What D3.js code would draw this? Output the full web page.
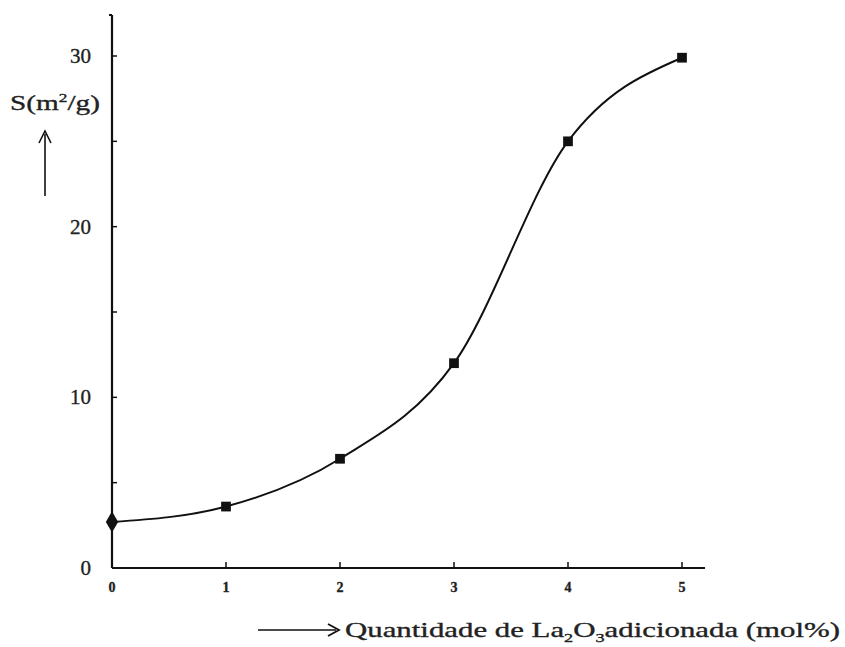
<!DOCTYPE html>
<html>
<head>
<meta charset="utf-8">
<script src="https://cdn.jsdelivr.net/npm/d3@7"></script>
<style>
  body { margin: 0; background: #fff; }
  svg { display: block; }
  text { stroke: #222; stroke-width: 0.35px; }
</style>
</head>
<body>
<div id="chart"></div>
<script>
const width = 845, height = 647;
const origin = { x: 112, y: 568 };

// data
const lanthana = [0, 1, 2, 3, 4, 5];
const area = [2.7, 3.6, 6.4, 12.0, 25.0, 29.9];
const yTickLabels = [0, 10, 20, 30];
const yMinorTicks = [5, 10, 15, 20, 25, 30];
const xTickLabels = ["0", "1", "2", "3", "4", "5"];

const x = d3.scaleLinear().domain([0, 5]).range([origin.x, 682]);
const y = d3.scaleLinear().domain([0, 30]).range([origin.y, 56]);

const svg = d3.select("#chart").append("svg")
    .attr("width", width)
    .attr("height", height);

const font = "'Liberation Serif', 'DejaVu Serif', serif";

// axis lines
svg.append("line")
    .attr("x1", origin.x).attr("x2", origin.x)
    .attr("y1", 15).attr("y2", origin.y)
    .attr("stroke", "#111").attr("stroke-width", 2.2);
svg.append("line")
    .attr("x1", origin.x - 3).attr("x2", origin.x)
    .attr("y1", 15).attr("y2", 15)
    .attr("stroke", "#111").attr("stroke-width", 2);
svg.append("line")
    .attr("x1", origin.x).attr("x2", 705)
    .attr("y1", origin.y).attr("y2", origin.y)
    .attr("stroke", "#111").attr("stroke-width", 2.2);

// y ticks (inside)
svg.selectAll(".ytick")
    .data(yMinorTicks)
    .join("line")
    .attr("x1", origin.x).attr("x2", origin.x + 5)
    .attr("y1", d => y(d)).attr("y2", d => y(d))
    .attr("stroke", "#111").attr("stroke-width", 1.5);

svg.selectAll(".ylab")
    .data(yTickLabels)
    .join("text")
    .attr("x", 91)
    .attr("y", d => y(d) + 7)
    .attr("text-anchor", "end")
    .style("font-family", font)
    .style("font-size", "21px")
    .attr("fill", "#222")
    .text(d => d);

// x ticks (inside)
svg.selectAll(".xtick")
    .data(lanthana.slice(1))
    .join("line")
    .attr("x1", d => x(d)).attr("x2", d => x(d))
    .attr("y1", origin.y).attr("y2", origin.y - 6)
    .attr("stroke", "#111").attr("stroke-width", 1.5);

svg.selectAll(".xlab")
    .data(lanthana)
    .join("text")
    .attr("x", d => x(d))
    .attr("y", 592)
    .attr("text-anchor", "middle")
    .style("font-family", font)
    .style("font-size", "14px")
    .style("font-weight", "bold")
    .attr("fill", "#222")
    .text((d, i) => xTickLabels[i]);

// curve
const pts = lanthana.map((d, i) => [d, area[i]]);
const line = d3.line()
    .x(d => x(d[0]))
    .y(d => y(d[1]))
    .curve(d3.curveMonotoneX);

svg.append("path")
    .datum(pts)
    .attr("fill", "none")
    .attr("stroke", "#111")
    .attr("stroke-width", 2)
    .attr("d", line);

// markers
svg.selectAll(".pt")
    .data(pts)
    .join("path")
    .attr("transform", d => `translate(${x(d[0])},${y(d[1])})`)
    .attr("d", (d, i) => d3.symbol(i === 0 ? d3.symbolDiamond : d3.symbolSquare, i === 0 ? 130 : 95)())
    .attr("fill", "#111");

// y label
svg.append("text")
    .attr("x", 10)
    .attr("y", 110)
    .attr("textLength", 90)
    .attr("lengthAdjust", "spacingAndGlyphs")
    .style("font-family", font)
    .style("font-size", "22px")
    .attr("fill", "#222")
    .call(t => {
        t.append("tspan").text("S(m");
        t.append("tspan").attr("dy", -8).style("font-size", "13px").text("2");
        t.append("tspan").attr("dy", 8).text("/g)");
    });

// up arrow
svg.append("line")
    .attr("x1", 45).attr("x2", 45)
    .attr("y1", 196).attr("y2", 134)
    .attr("stroke", "#111").attr("stroke-width", 1.6);
svg.append("path")
    .attr("d", "M39,143 L45,131 L51,143")
    .attr("fill", "none")
    .attr("stroke", "#111").attr("stroke-width", 1.6);

// x label with right arrow
svg.append("line")
    .attr("x1", 258).attr("x2", 336)
    .attr("y1", 630).attr("y2", 630)
    .attr("stroke", "#111").attr("stroke-width", 1.6);
svg.append("path")
    .attr("d", "M328,624 L339,630 L328,636")
    .attr("fill", "none")
    .attr("stroke", "#111").attr("stroke-width", 1.8);

svg.append("text")
    .attr("x", 345)
    .attr("y", 637)
    .attr("textLength", 495)
    .attr("lengthAdjust", "spacingAndGlyphs")
    .style("font-family", font)
    .style("font-size", "22px")
    .attr("fill", "#222")
    .call(t => {
        t.append("tspan").text("Quantidade de La");
        t.append("tspan").attr("dy", 5).style("font-size", "13px").text("2");
        t.append("tspan").attr("dy", -5).text("O");
        t.append("tspan").attr("dy", 5).style("font-size", "13px").text("3");
        t.append("tspan").attr("dy", -5).text("adicionada (mol%)");
    });
</script>
</body>
</html>
